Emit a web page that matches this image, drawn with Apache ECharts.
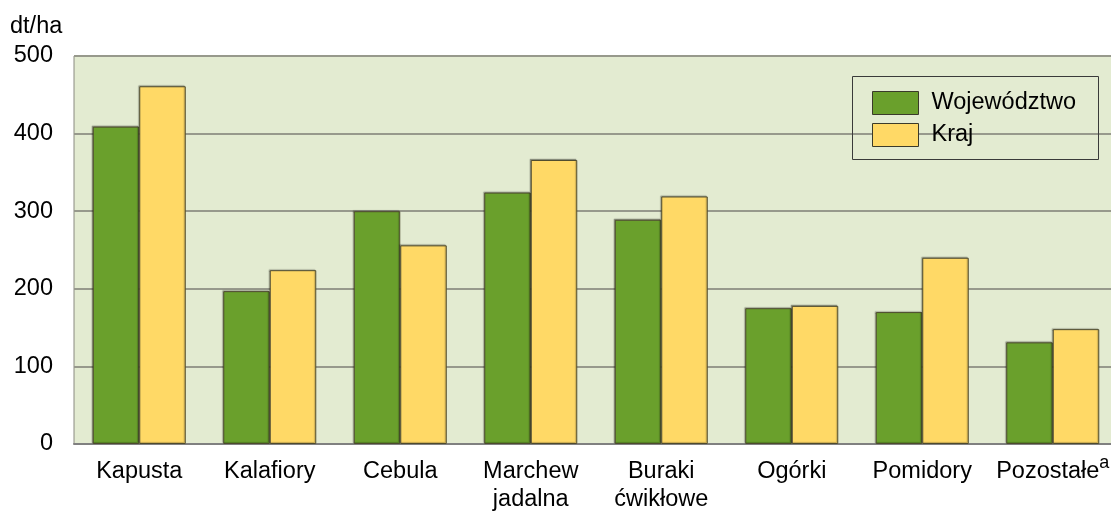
<!DOCTYPE html>
<html>
<head>
<meta charset="utf-8">
<script src="https://cdn.jsdelivr.net/npm/echarts@6/dist/echarts.min.js"></script>
<style>
html,body{margin:0;padding:0;background:#fff;overflow:hidden;width:1111px;height:514px;}
#c{width:1122px;height:514px;}
</style>
</head>
<body>
<div id="c"></div>
<script>
var categories = ['Kapusta', 'Kalafiory', 'Cebula', 'Marchew\njadalna', 'Buraki\nćwikłowe', 'Ogórki', 'Pomidory', 'Pozostałe{sup|a}'];
var wojewodztwo = [409, 197, 300, 324, 289, 175, 170, 131];
var kraj = [461, 224, 256, 366, 319, 178, 240, 148];
var yTicks = { min: 0, max: 500, interval: 100 };
var unitLabel = 'dt/ha';
var seriesNames = ['Województwo', 'Kraj'];

var FONT = '"Liberation Sans", Arial, sans-serif';
var chart = echarts.init(document.getElementById('c'));
var barStyle = function (color) {
  return {
    color: color,
    borderColor: '#4d4a2e',
    borderWidth: 1,
    shadowColor: 'rgba(0,0,0,0.25)',
    shadowBlur: 1,
    shadowOffsetX: -1,
    shadowOffsetY: -1
  };
};
chart.setOption({
  animation: false,
  backgroundColor: '#ffffff',
  textStyle: { fontFamily: FONT },
  grid: {
    left: 74, top: 56, width: 1044, bottom: 68,
    show: true, backgroundColor: '#e3ebd1', borderColor: '#8a8a80', borderWidth: 1
  },
  graphic: [
    { type: 'text', left: 10, top: 15, style: { text: unitLabel, font: '23.5px ' + FONT, fill: '#000' } },
    { type: 'rect', shape: { x: 852.5, y: 76.5, width: 246, height: 83 }, style: { fill: 'none', stroke: '#3a3a3a', lineWidth: 1 }, z: 10 }
  ],
  legend: {
    orient: 'vertical',
    left: 872, top: 91,
    padding: 0,
    itemWidth: 46, itemHeight: 23, itemGap: 8,
    icon: 'rect',
    itemStyle: { borderColor: '#3a3a2a', borderWidth: 1 },
    textStyle: { fontSize: 23.5, color: '#000', fontFamily: FONT, padding: [0, 0, 0, 8] },
    data: seriesNames
  },
  xAxis: {
    type: 'category',
    data: categories,
    axisTick: { show: false },
    axisLine: { lineStyle: { color: '#808080', width: 2 } },
    axisLabel: {
      color: '#000', fontSize: 23.5, fontFamily: FONT, margin: 14, lineHeight: 28,
      interval: 0,
      rich: {
        sup: { fontSize: 18, color: '#000', fontFamily: FONT, padding: [0, 0, 18, 0] }
      }
    }
  },
  yAxis: {
    type: 'value',
    min: yTicks.min, max: yTicks.max, interval: yTicks.interval,
    axisLine: { show: false },
    axisTick: { show: false },
    axisLabel: { color: '#000', fontSize: 23.5, fontFamily: FONT, margin: 21 },
    splitLine: { lineStyle: { color: '#97998c', width: 2 } }
  },
  series: [
    { name: seriesNames[0], type: 'bar', data: wojewodztwo, barWidth: 46.5, barGap: '0%', itemStyle: barStyle('#6aa02c') },
    { name: seriesNames[1], type: 'bar', data: kraj, barWidth: 46.5, barGap: '0%', itemStyle: barStyle('#ffd966') }
  ]
});
</script>
</body>
</html>
